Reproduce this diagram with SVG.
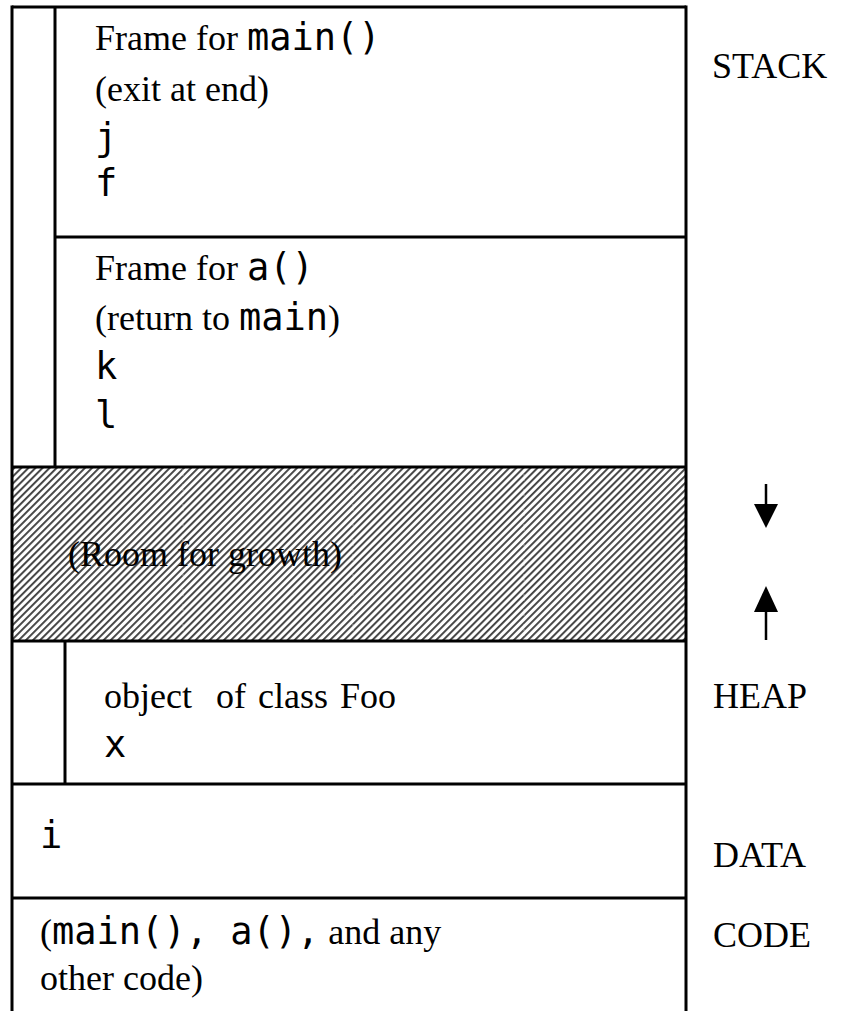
<svg xmlns="http://www.w3.org/2000/svg" width="850" height="1011" viewBox="0 0 850 1011">
<style>
.ln{stroke:#000;stroke-width:3;fill:none}
.serif{font-family:"Liberation Serif","Times New Roman",serif;font-size:36px;fill:#000}
.mono{font-family:"DejaVu Sans Mono","Liberation Mono",monospace;font-size:37px;fill:#000}
.lbl{font-family:"Liberation Serif","Times New Roman",serif;font-size:36px;fill:#000}
</style>
<defs>
<pattern id="hatch" patternUnits="userSpaceOnUse" width="5" height="5" patternTransform="rotate(45)">
<rect width="5" height="5" fill="#ffffff"/>
<rect width="1.9" height="5" fill="#404040"/>
</pattern>
</defs>
<rect width="850" height="1011" fill="#fff"/>

<g id="growth">
<rect x="12" y="467" width="674" height="174" fill="url(#hatch)"/>
<g stroke="#fff" stroke-width="1" stroke-dasharray="2 3" opacity="0.45">
<line x1="183" y1="469" x2="183" y2="639"/>
<line x1="353" y1="469" x2="353" y2="639"/>
<line x1="524" y1="469" x2="524" y2="639"/>
</g>
<text class="serif" x="68" y="566">(Room for growth)</text>
</g>

<g id="frame-main">
<text class="serif" x="95" y="50">Frame for <tspan class="mono">main()</tspan></text>
<text class="serif" x="95" y="101">(exit at end)</text>
<text class="mono" x="95" y="150">j</text>
<text class="mono" x="95" y="196">f</text>
</g>

<g id="frame-a">
<text class="serif" x="95" y="280">Frame for <tspan class="mono">a()</tspan></text>
<text class="serif" x="95" y="330">(return to <tspan class="mono">main</tspan>)</text>
<text class="mono" x="95" y="379">k</text>
<text class="mono" x="95" y="428">l</text>
</g>

<g id="heap">
<text class="serif" x="104" y="708" xml:space="preserve" word-spacing="3">object  of class Foo</text>
<text class="mono" x="104" y="757">x</text>
</g>

<g id="data">
<text class="mono" x="40" y="848">i</text>
</g>

<g id="code">
<text class="serif" x="40" y="944">(<tspan class="mono">main(), a(),</tspan> and any</text>
<text class="serif" x="40" y="990">other code)</text>
</g>

<g id="frame-lines">
<line class="ln" x1="12" y1="7" x2="686" y2="7"/>
<line class="ln" x1="12" y1="5.5" x2="12" y2="1011"/>
<line class="ln" x1="686" y1="5.5" x2="686" y2="1011"/>
<line class="ln" x1="55" y1="7" x2="55" y2="467"/>
<line class="ln" x1="55" y1="237" x2="686" y2="237"/>
<line class="ln" x1="12" y1="467" x2="686" y2="467"/>
<line class="ln" x1="12" y1="641" x2="686" y2="641"/>
<line class="ln" x1="65" y1="641" x2="65" y2="784"/>
<line class="ln" x1="12" y1="784" x2="686" y2="784"/>
<line class="ln" x1="12" y1="898" x2="686" y2="898"/>
</g>

<g id="labels">
<text class="lbl" x="712" y="78">STACK</text>
<text class="lbl" x="713" y="708">HEAP</text>
<text class="lbl" x="713" y="867">DATA</text>
<text class="lbl" x="713" y="947">CODE</text>
</g>

<g id="connectors">
<line x1="766" y1="484" x2="766" y2="508" stroke="#000" stroke-width="2.5"/>
<polygon points="754,504 778,504 766,528" fill="#000"/>
<line x1="766" y1="608" x2="766" y2="640" stroke="#000" stroke-width="2.5"/>
<polygon points="754,612 778,612 766,586" fill="#000"/>
</g>
</svg>
